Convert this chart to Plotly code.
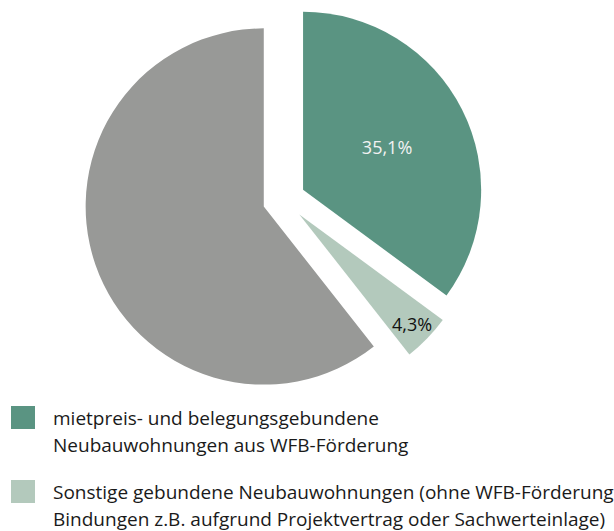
import plotly.graph_objects as go

# ---- data ----
categories = [
    "mietpreis- und belegungsgebundene Neubauwohnungen aus WFB-Förderung",
    "Sonstige gebundene Neubauwohnungen (ohne WFB-Förderung Bindungen z.B. aufgrund Projektvertrag oder Sachwerteinlage)",
    "Übrige Neubauwohnungen",
]
values = [35.1, 4.3, 60.6]
legend_lines = [
    ["mietpreis- und belegungsgebundene", "Neubauwohnungen aus WFB-Förderung"],
    ["Sonstige gebundene Neubauwohnungen (ohne WFB-Förderung",
     "Bindungen z.B. aufgrund Projektvertrag oder Sachwerteinlage)"],
]
show_text = [True, True, False]

# ---- style ----
colors = ["#5a9482", "#b3c9bc", "#989997"]
text_colors = ["#f2f2f2", "#111111", "#111111"]
FONT = "Open Sans"
W, H = 614, 531
MT, MB = 0, 132
plot_h = H - MT - MB


def py2paper(py):
    return 1 - (py - MT) / plot_h


fig = go.Figure()
fig.add_trace(go.Pie(
    labels=categories,
    values=values,
    sort=False,
    direction="clockwise",
    rotation=0,
    pull=[0.12] * len(values),
    marker=dict(colors=colors, line=dict(width=0)),
    texttemplate=["%{percent:.1%}" if s else "" for s in show_text],
    textposition="inside",
    insidetextorientation="horizontal",
    textfont=dict(family=FONT, size=18, color=text_colors),
    showlegend=False,
    domain=dict(x=[0, 0.925], y=[0, 1]),
    hoverinfo="label+percent",
))

shapes = []
annotations = []
item_tops = [406, 480]
for i, lines in enumerate(legend_lines):
    top = item_tops[i]
    shapes.append(dict(
        type="rect", xref="paper", yref="paper",
        x0=11 / W, x1=35 / W, y0=py2paper(top), y1=py2paper(top + 23),
        fillcolor=colors[i], line=dict(width=0),
    ))
    for j, line in enumerate(lines):
        annotations.append(dict(
            text=line, xref="paper", yref="paper",
            x=52 / W, y=py2paper(top + 12 + 27 * j),
            xanchor="left", yanchor="middle", showarrow=False,
            align="left", borderpad=0,
            font=dict(family=FONT, size=19, color="#1a1a1a"),
        ))

fig.update_layout(
    width=W, height=H,
    margin=dict(l=0, r=0, t=MT, b=MB),
    paper_bgcolor="white", plot_bgcolor="white",
    separators=",.",
    uniformtext=dict(minsize=18, mode="show"),
    shapes=shapes, annotations=annotations,
    showlegend=False,
)

fig.write_html(
    "out.html",
    config={"displayModeBar": False},
    post_script="document.body.style.margin='0';document.body.style.overflow='hidden';",
)
